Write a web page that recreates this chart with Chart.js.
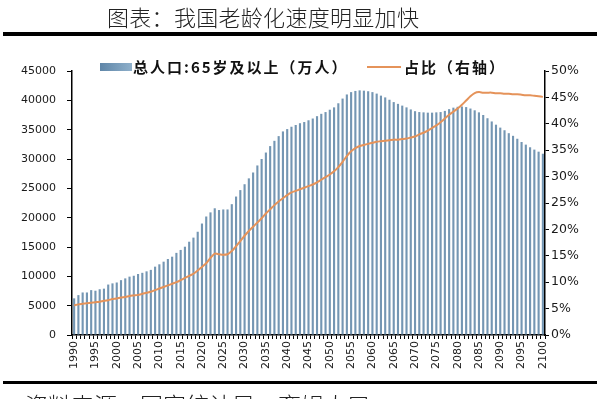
<!DOCTYPE html>
<html>
<head>
<meta charset="utf-8">
<script src="https://cdn.jsdelivr.net/npm/chart.js@4/dist/chart.umd.min.js"></script>
<style>
  html, body { margin: 0; padding: 0; width: 600px; height: 399px; overflow: hidden; background: #fff; }
  #wrap { position: relative; width: 600px; height: 399px; }
  #c { position: absolute; left: 0; top: 0; }
  .title { position: absolute; left: 107px; top: 5px; font-family: "Noto Sans CJK SC"; font-size: 22px; line-height: 22px; color: #222; font-weight: 300; white-space: nowrap; letter-spacing: 0.3px; }
  .rule { position: absolute; left: 3px; width: 594px; background: #000; }
  .src { position: absolute; left: 25px; top: 393px; font-family: "Noto Sans CJK SC"; font-size: 23px; line-height: 23px; color: #222; font-weight: 300; white-space: nowrap; }
  .leg { position: absolute; top: 58px; height: 18px; font-family: "Noto Sans CJK SC"; font-weight: 700; font-size: 15px; line-height: 18px; color: #111; white-space: nowrap; letter-spacing: 2px; }
  .patch { position: absolute; left: 100px; top: 63px; width: 32px; height: 8px; background: linear-gradient(90deg, #5f86a8, #8fb0cb); }
  .lline { position: absolute; left: 367px; top: 66px; width: 34px; height: 2px; background: #e5935a; }
</style>
</head>
<body>
<div id="wrap">
  <canvas id="c" width="600" height="399"></canvas>
  <div class="title">图表：我国老龄化速度明显加快</div>
  <div class="rule" style="top:32px;height:4px;"></div>
  <div class="patch"></div>
  <div class="leg" style="left:133px;">总人口:65岁及以上（万人）</div>
  <div class="lline"></div>
  <div class="leg" style="left:404px;">占比（右轴）</div>
  <div class="rule" style="top:381px;height:3px;"></div>
  <div class="src">资料来源：国家统计局，育娲人口</div>
</div>
<script>
const years = [];
for (let y = 1990; y <= 2100; y++) years.push(String(y));

const pop65 = [
  6250, 6800, 7250, 7250, 7650, 7550, 7800, 7900, 8600, 8800,
  8950, 9350, 9650, 9950, 10100, 10400, 10600, 10850, 11100, 11650,
  12050, 12500, 12950, 13350, 14000, 14500, 15050, 15900, 16600, 17600,
  19000, 20200, 20900, 21600, 21300, 21400, 21400, 22300, 23600, 24700,
  25700, 26700, 27700, 28900, 30000, 31100, 32200, 33100, 33900, 34700,
  35100, 35500, 35800, 36100, 36300, 36600, 36900, 37300, 37700, 38000,
  38400, 38800, 39500, 40300, 41000, 41400, 41600, 41700, 41650, 41550,
  41400, 41150, 40800, 40500, 40100, 39700, 39400, 39100, 38800, 38450,
  38150, 38000, 37950, 37900, 37900, 37950, 38000, 38200, 38500, 38750,
  38900, 38950, 38850, 38600, 38300, 37950, 37500, 36950, 36400, 35850,
  35350, 34900, 34400, 33950, 33450, 32900, 32450, 32000, 31600, 31250,
  30900
];

const share = [
  5.6, 5.8, 5.9, 6.0, 6.1, 6.2, 6.3, 6.5, 6.6, 6.8,
  6.9, 7.1, 7.2, 7.4, 7.5, 7.6, 7.8, 8.0, 8.2, 8.5,
  8.8, 9.1, 9.4, 9.7, 10.0, 10.4, 10.8, 11.2, 11.6, 12.2,
  12.9, 13.6, 14.6, 15.4, 15.3, 15.2, 15.3, 15.9, 16.8, 17.8,
  18.8, 19.7, 20.5, 21.3, 22.1, 23.0, 23.8, 24.6, 25.3, 25.9,
  26.5, 27.0, 27.3, 27.6, 27.9, 28.2, 28.5, 28.9, 29.4, 29.9,
  30.4, 31.0, 31.8, 32.8, 33.9, 34.8, 35.4, 35.8, 36.0, 36.2,
  36.4, 36.6, 36.7, 36.8, 36.9, 37.0, 37.0, 37.1, 37.2, 37.4,
  37.6, 38.0, 38.3, 38.7, 39.2, 39.7, 40.3, 41.0, 41.7, 42.3,
  42.9, 43.6, 44.4, 45.2, 45.8, 46.0, 45.9, 45.9, 45.9, 45.8,
  45.8, 45.7, 45.7, 45.6, 45.6, 45.5, 45.4, 45.4, 45.3, 45.2,
  45.1
];

const leftTicks = [0, 5000, 10000, 15000, 20000, 25000, 30000, 35000, 40000, 45000];
const rightTicks = [0, 5, 10, 15, 20, 25, 30, 35, 40, 45, 50];

new Chart(document.getElementById('c'), {
  data: {
    labels: years,
    datasets: [
      {
        type: 'line',
        label: '占比（右轴）',
        data: share,
        yAxisID: 'y1',
        borderColor: '#e5935a',
        borderWidth: 2,
        pointRadius: 0,
        tension: 0.3,
        order: 0
      },
      {
        type: 'bar',
        label: '总人口:65岁及以上（万人）',
        data: pop65,
        yAxisID: 'y',
        backgroundColor: '#7496b3',
        barPercentage: 0.5,
        categoryPercentage: 1.0,
        order: 1
      }
    ]
  },
  options: {
    responsive: false,
    animation: false,
    layout: { padding: { top: 71, left: 0, right: 0, bottom: 0 } },
    plugins: { legend: { display: false }, tooltip: { enabled: false } },
    scales: {
      x: {
        afterFit: s => { s.height = 64; },
        grid: { display: true, drawOnChartArea: false, drawTicks: true, tickLength: 4, color: '#000', offset: true },
        border: { display: true, color: '#000', width: 1.5 },
        ticks: {
          autoSkip: false, minRotation: 90, maxRotation: 90, padding: 2,
          color: '#1a1a1a', font: { family: 'DejaVu Sans', size: 11 },
          callback: function (v, i) { const l = this.getLabelForValue(v); return (+l % 5 === 0) ? l : ''; }
        }
      },
      y: {
        position: 'left', min: 0, max: 45000,
        afterFit: s => { s.width = 72; },
        afterBuildTicks: s => { s.ticks = leftTicks.map(v => ({ value: v })); },
        grid: { display: true, drawOnChartArea: false, tickLength: 5, color: '#000' },
        border: { display: true, color: '#000', width: 1.5 },
        ticks: { padding: 11, color: '#1a1a1a', font: { family: 'DejaVu Sans', size: 11 }, callback: v => String(v) }
      },
      y1: {
        position: 'right', min: 0, max: 50,
        afterFit: s => { s.width = 55; },
        afterBuildTicks: s => { s.ticks = rightTicks.map(v => ({ value: v })); },
        grid: { display: true, drawOnChartArea: false, tickLength: 4, color: '#000' },
        border: { display: true, color: '#000', width: 1.5 },
        ticks: { padding: 2, color: '#1a1a1a', font: { family: 'DejaVu Sans', size: 12.5 }, callback: v => v + '%' }
      }
    }
  }
});
</script>
</body>
</html>
